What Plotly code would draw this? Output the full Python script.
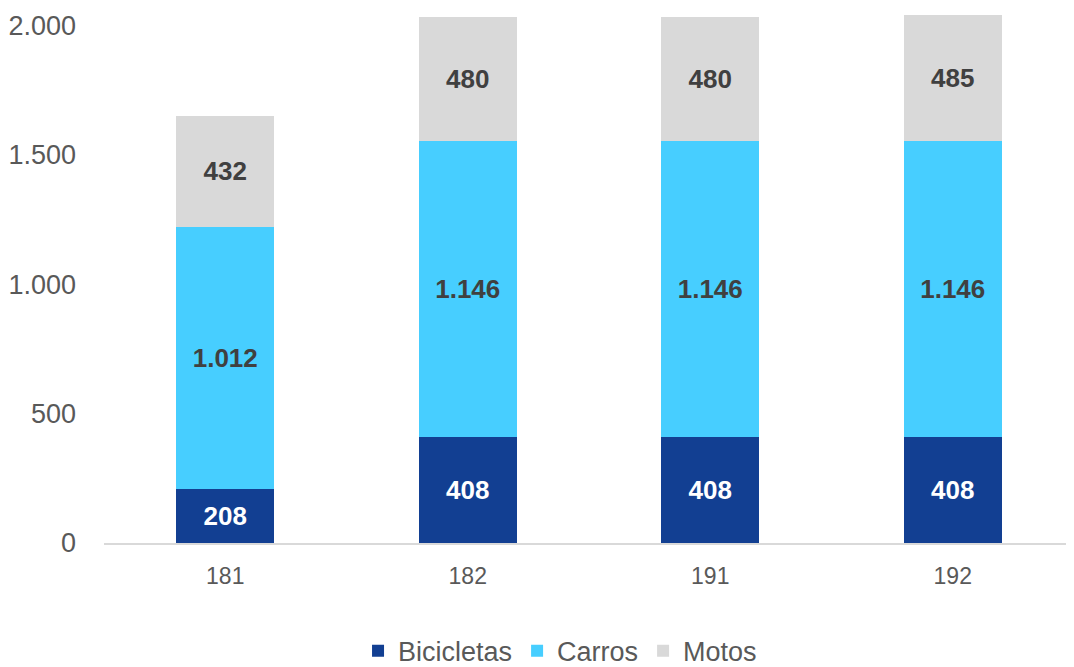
import plotly.graph_objects as go

categories = ["181", "182", "191", "192"]
bicicletas = [208, 408, 408, 408]
carros = [1012, 1146, 1146, 1146]
motos = [432, 480, 480, 485]
tick_vals = [0, 500, 1000, 1500, 2000]

series = [
    ("Bicicletas", bicicletas, "#123F92", "white"),
    ("Carros", carros, "#47CEFF", "#404040"),
    ("Motos", motos, "#D9D9D9", "#404040"),
]

fig = go.Figure()
for name, vals, color, tcolor in series:
    fig.add_trace(go.Bar(
        x=categories, y=vals, name=name,
        marker=dict(color=color, line=dict(width=0)),
        texttemplate="%{y:,.0f}", textposition="inside",
        insidetextanchor="middle", textangle=0,
        textfont=dict(family="Liberation Sans", size=26, color=tcolor, weight="bold"),
        hoverinfo="skip",
    ))

fig.update_layout(
    barmode="stack",
    bargap=0.596,
    separators=",.",
    width=1074, height=667,
    margin=dict(l=96, r=8, t=2, b=132, autoexpand=False),
    plot_bgcolor="white", paper_bgcolor="white",
    font=dict(family="Liberation Sans", color="#595959"),
    showlegend=True,
    legend=dict(
        orientation="h", xref="container",
        x=0.514, xanchor="center", y=-0.203, yanchor="middle",
        font=dict(size=27, color="#595959"), traceorder="normal",
        itemwidth=30,
    ),
    xaxis=dict(
        type="category", showgrid=False, showline=True,
        linecolor="#D9D9D9", linewidth=2, ticks="",
        tickfont=dict(size=23, color="#595959"), ticklabelstandoff=11,
        range=[-0.5, 3.5],
    ),
    yaxis=dict(
        range=[0, 2060], tickvals=tick_vals, tickformat=",.0f",
        showgrid=False, zeroline=False, showline=False, ticks="",
        tickfont=dict(size=27, color="#595959"), ticklabelstandoff=27,
    ),
)

fig.write_html("out.html")
